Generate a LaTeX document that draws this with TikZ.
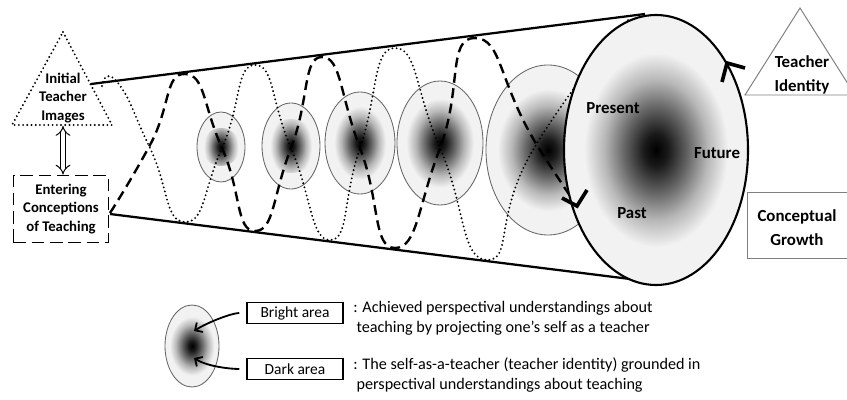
\documentclass[tikz,border=0pt]{standalone}
\usepackage{fontspec}
\setmainfont{Carlito}
\usetikzlibrary{arrows.meta}

\definecolor{ringgray}{gray}{0.4}
\definecolor{fillgray}{gray}{0.95}
\definecolor{boxgray}{gray}{0.5}

\pgfdeclareradialshading{darkspot}{\pgfpointorigin}{color(0bp)=(black); color(3bp)=(black!90); color(8bp)=(black!60); color(13bp)=(black!28); color(18bp)=(fillgray); color(50bp)=(fillgray)}

\tikzset{
  cone/.style={line width=1.6pt},
  helixdash/.style={line width=1.7pt, dash pattern=on 7pt off 4pt},
  helixdot/.style={line width=1.5pt, dash pattern=on 0pt off 3pt, line cap=round},
  ring/.style={draw=ringgray, line width=0.6pt, fill=fillgray,
    path picture={\shade[shading=darkspot] (path picture bounding box.center) circle (#1);}},
  chevron/.style={line width=2.6pt, line join=miter},
  lbl/.style={font=\bfseries\fontsize{10.5}{13}\selectfont, align=center},
  tag/.style={font=\bfseries\fontsize{12}{17}\selectfont, align=center},
  keybox/.style={draw, line width=1pt, minimum width=2.4cm, minimum height=0.525cm, inner sep=0pt, font=\fontsize{11}{13}\selectfont},
  keytext/.style={anchor=west, align=left, inner sep=0pt, font=\fontsize{11.5}{14.2}\selectfont},
  keyarrow/.style={line width=1.3pt, -{Straight Barb[length=4pt,width=8pt]}},
  twoway/.style={double, double distance=3pt, line width=0.7pt, {Implies}-{Implies}},
}

\begin{document}
\begin{tikzpicture}[x=0.025cm, y=-0.025cm]
  \useasboundingbox (0,0) rectangle (847,400);
  \clip (0,0) rectangle (847,400);

  \draw[cone] (91,84) -- (645,14);
  \draw[cone] (110,214) -- (630,279);

  \draw[ring=19] (221,147) ellipse (24 and 35);
  \draw[ring=27] (291,146) ellipse (29 and 43);
  \draw[ring=36] (360,143) ellipse (35 and 51);
  \draw[ring=47] (440,143) ellipse (43 and 62);
  \draw[ring=70] (548,150) ellipse (62 and 85);

  \draw[helixdash] plot[smooth, tension=1] coordinates {(110,213) (150,145) (185,74) (222,148) (255,231) (291,148) (322,57) (360,148) (395,248) (440,148) (475,38) (540,150) (627,277)};
  \draw[helixdot] plot[smooth, tension=1] coordinates {(102,86) (118,83) (150,148) (185,222) (222,148) (255,65) (291,148) (330,240) (360,148) (395,48) (440,148) (487,260) (533,150) (630,18)};

  \draw[ring=100, draw=black, line width=1.5pt] (656,150) ellipse (92 and 135);
  \draw[chevron] (722,82) -- (727,63) -- (745,68);
  \draw[chevron] (562,198) -- (577,206) -- (587,190);
  \node[tag] (present) at (613,108) {Present};
  \node[tag] (future) at (717,153) {Future};
  \node[tag] (past) at (632,213) {Past};

  \draw[helixdot] (63,32) -- (112,125) -- (12,125) -- cycle;
  \node[lbl] (initimg) at (63,98) {Initial\\Teacher\\Images};
  \node[lbl, draw, line width=1.3pt, dash pattern=on 9pt off 4pt, minimum width=2.375cm, minimum height=1.675cm] (entering) at (61,209) {Entering\\Conceptions\\of Teaching};
  \coordinate (imgbase) at (63,126);
  \draw[twoway] (imgbase) -- (imgbase |- entering.north);

  \draw[boxgray, line width=0.7pt] (745,95) -- (800,8) -- (855,95) -- cycle;
  \node[tag] (idtag) at (802,75) {Teacher\\Identity};
  \draw[boxgray, line width=0.7pt] (747,192) rectangle (860,258);
  \node[tag] (growth) at (797,228) {Conceptual\\Growth};

  \draw[ring=31] (192,346) ellipse (27 and 41);
  \coordinate (brightpt) at (194,331);
  \coordinate (darkpt) at (194,358);
  \node[keybox] (bright) at (295,313) {Bright area};
  \node[keybox] (dark) at (295,369) {Dark area};
  \draw[keyarrow, shorten <=5pt] (bright.west) .. controls +(-14,0) and +(14,-9) .. (brightpt);
  \draw[keyarrow, shorten <=5pt] (dark.west) .. controls +(-14,0) and +(14,9) .. (darkpt);
  \node[keytext] (brighttext) at (353,318) {: Achieved perspectival understandings about\\\hspace{0.2em}teaching by projecting one's self as a teacher};
  \node[keytext] (darktext) at (353,375) {: The self-as-a-teacher (teacher identity) grounded in\\\hspace{0.2em}perspectival understandings about teaching};
\end{tikzpicture}
\end{document}
